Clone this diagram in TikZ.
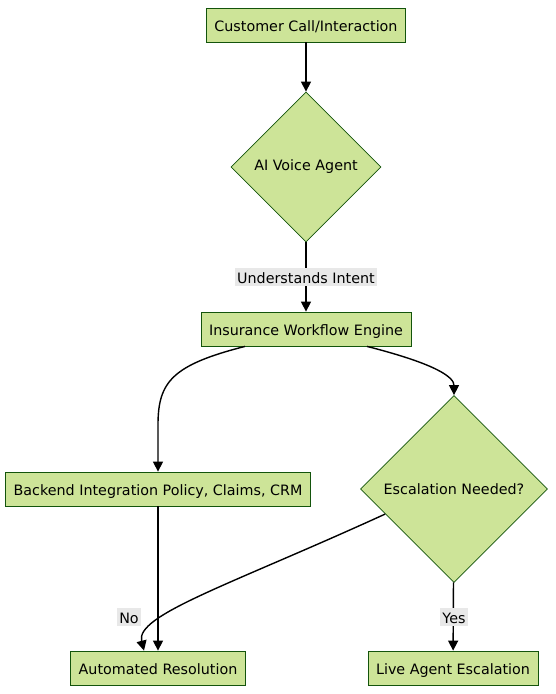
\documentclass[tikz,border=0pt]{standalone}
\usepackage{fontspec}
\setmainfont{DejaVu Sans}
\usetikzlibrary{shapes.geometric,arrows.meta}

\definecolor{boxfill}{HTML}{CDE498}
\definecolor{boxline}{HTML}{13540C}
\definecolor{labelbg}{HTML}{E8E8E8}

\tikzset{
  stepbox/.style={draw=boxline, fill=boxfill, line width=0.8pt, minimum height=34pt, inner xsep=8pt, text height=16pt, text depth=3pt, font=\fontsize{14.3}{16}\selectfont},
  choice/.style={draw=boxline, fill=boxfill, line width=0.8pt, diamond, aspect=1, inner sep=0pt, font=\fontsize{14.3}{16}\selectfont},
  edgelabel/.style={fill=labelbg, inner xsep=2pt, inner ysep=0pt, text height=15pt, text depth=3pt, font=\fontsize{14.3}{16}\selectfont},
  link/.style={line width=1.4pt, -{Triangle[length=10pt,width=10pt]}}
}

\begin{document}
\begin{tikzpicture}[x=1pt, y=-1pt]

\useasboundingbox (0,0) rectangle (555,694);

% 节点
\node[stepbox] (call) at (306,25) {Customer Call/Interaction};
\node[choice, minimum size=150pt] (agent) at (306,167) {AI Voice Agent};
\node[stepbox] (flow) at (306,329) {Insurance Workflow Engine};
\node[stepbox] (backend) at (158,489) {Backend Integration Policy, Claims, CRM};
\node[choice, minimum size=187pt] (esc) at (454,489) {Escalation Needed?};
\node[stepbox] (auto) at (158,668) {Automated Resolution};
\node[stepbox] (live) at (453,668) {Live Agent Escalation};

% 箭头
\draw[link] (call) -- (agent);
\draw[link] (agent) -- (flow);
\draw[link] ([xshift=-61pt]flow.south) .. controls (172,365) and (158,382) .. (158,425) -- (backend.north);
\draw[link] ([xshift=61pt]flow.south) .. controls (440,365) and (454,378) .. (esc.north);
\draw[link] (backend) -- (auto);
\draw[link] (esc.200) .. controls (230,585) and (135,615) .. ([xshift=-14pt]auto.north);
\draw[link] (esc) -- (live);

% 标记文字
\node[edgelabel] (intent) at (306,277) {Understands Intent};
\node[edgelabel] (no) at (129,617) {No};
\node[edgelabel] (yes) at (454,617) {Yes};

\end{tikzpicture}
\end{document}
